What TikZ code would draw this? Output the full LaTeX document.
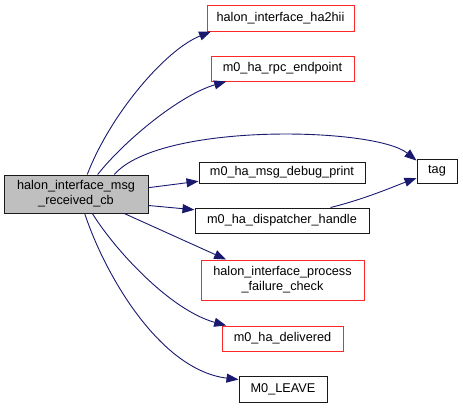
\documentclass[tikz,border=0pt]{standalone}
\usepackage{fontspec}
\setmainfont{Liberation Sans}
\usetikzlibrary{arrows.meta}
\definecolor{edgeblue}{RGB}{25,25,112}
\definecolor{rootgray}{RGB}{191,191,191}
\definecolor{undocred}{RGB}{255,40,40}
\begin{document}
\begin{tikzpicture}[
        x=1pt, y=-1pt,
        call box/.style={
            draw=black!90,
            line width=1pt,
            align=center,
            inner sep=0pt,
            minimum height=25pt,
            font=\fontsize{12.7}{15}\selectfont
        },
        undoc box/.style={call box, draw=undocred},
        root box/.style={call box, fill=rootgray},
        call edge/.style={
            draw=edgeblue,
            line width=0.9pt,
            -{Triangle[length=12pt,width=9pt]}
        }
    ]
        \useasboundingbox (0,0) rectangle (463,408);

        \node[root box, minimum width=144pt, minimum height=38pt] (root) at (76,194)
            {halon\_interface\_msg\\\_received\_cb};
        \node[undoc box, minimum width=147pt, minimum height=26pt] (ha2hii) at (280.5,18)
            {halon\_interface\_ha2hii};
        \node[undoc box, minimum width=143pt] (rpcendpoint) at (282.5,68.5)
            {m0\_ha\_rpc\_endpoint};
        \node[call box, minimum width=166pt, minimum height=21pt] (debugprint) at (282,172.5)
            {m0\_ha\_msg\_debug\_print};
        \node[call box, minimum width=174pt] (dispatcher) at (282,220.5)
            {m0\_ha\_dispatcher\_handle};
        \node[undoc box, minimum width=163pt, minimum height=40pt] (failurecheck) at (282.5,280)
            {halon\_interface\_process\\\_failure\_check};
        \node[undoc box, minimum width=121pt] (delivered) at (282.5,338.5)
            {m0\_ha\_delivered};
        \node[call box, minimum width=88pt, minimum height=26pt] (leave) at (283,389)
            {M0\_LEAVE};
        \node[call box, minimum width=40pt, minimum height=24pt] (tag) at (437,171)
            {tag};

        \draw[call edge] (root.60) .. controls (110,115) and (165,50) .. (ha2hii.-169);
        \draw[call edge] (root.42) .. controls (125,140) and (180,95) .. (rpcendpoint.-167);
        \draw[call edge] (root.27) .. controls (160,122) and (375,127) .. (tag.153);
        \draw[call edge] (root.5) -- (debugprint.-174);
        \draw[call edge] (root.-9) -- (dispatcher.173);
        \draw[call edge] (dispatcher.15) .. controls (365,199) and (395,186) .. (tag.-161);
        \draw[call edge] (root.-22) -- (failurecheck.160);
        \draw[call edge] (root.-50) .. controls (115,250) and (170,310) .. (delivered.167);
        \draw[call edge] (root.-66) .. controls (105,275) and (160,370) .. (leave.168);
    \end{tikzpicture}
\end{document}
